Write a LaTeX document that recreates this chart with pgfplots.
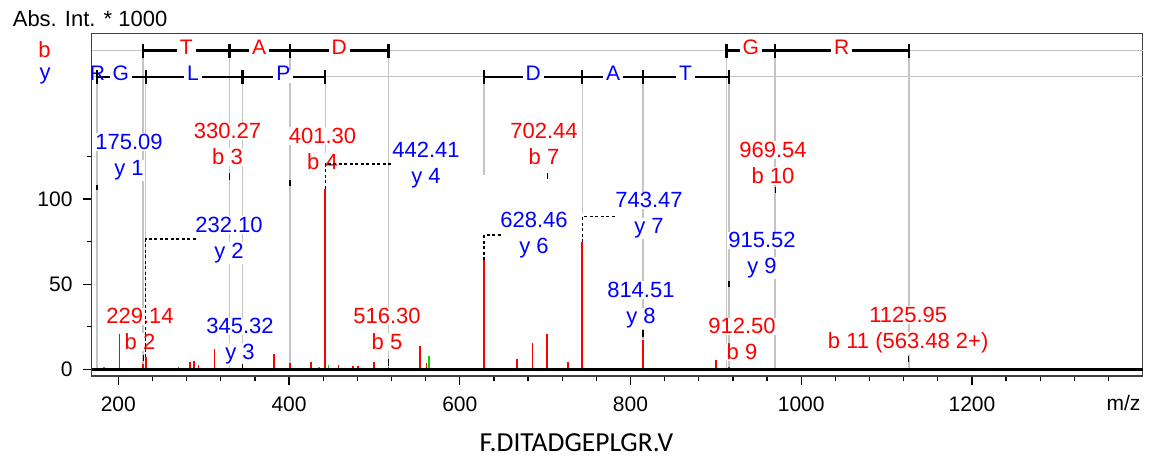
\documentclass[border=0pt]{standalone}
\usepackage{pgfplots}
\pgfplotsset{compat=1.18}
\usepackage{fontspec}
\setmainfont{Liberation Sans}
\newfontfamily\calib{Carlito}
\definecolor{pkred}{RGB}{255,0,0}
\definecolor{pkgreen}{RGB}{0,215,0}
\definecolor{ionblue}{RGB}{0,0,255}
\definecolor{gl}{RGB}{196,196,196}
\newcommand\lf{\fontsize{22}{26}\selectfont}
\newcommand\tf{\fontsize{21}{24}\selectfont}
\tikzset{
 lb/.style={anchor=base, fill=white, inner sep=1pt, font=\lf},
 lad/.style={fill=white, inner sep=3pt, text height=0.72em, text depth=0pt, font=\tf},
 gv/.style={gl, line width=1.5pt},
 ll/.style={black, line width=2.4pt},
 dl/.style={black, line width=1.3pt, dash pattern=on 3pt off 2.5pt},
 am/.style={black, line width=1.4pt},
}
\begin{document}
\begin{tikzpicture}[x=1pt,y=1pt]
\path[use as bounding box] (0,0) rectangle (1151,461);
\begin{axis}[at={(91.7pt,85pt)}, anchor=south west, scale only axis,
 width=1051pt, height=342.7pt,
 xmin=168.8, xmax=1400, ymin=-3.9, ymax=197.3,
 clip=false,
 axis line style={black!75, line width=1.4pt},
 xtick={200,400,...,1200},
 minor xtick={240,280,320,360,440,480,520,560,640,680,720,760,840,880,920,960,1040,1080,1120,1160,1240,1280,1320,1360},
 ytick={0,50,100}, minor ytick={25,75,125},
 tick align=outside, tick pos=left,
 major tick length=9pt, minor tick length=4.5pt,
 every tick/.style={black, line width=1.3pt},
 tick label style={font=\tf, inner sep=0pt},
 xticklabel style={yshift=-11.7pt},
 yticklabel style={xshift=-10pt},
 /pgf/number format/assume math mode=true,
 /pgf/number format/1000 sep={},
]
% ladder rows
\draw[gl, line width=1.3pt] (axis cs:168.8,187.1) -- (axis cs:1400,187.1);
\draw[gl, line width=1.3pt] (axis cs:168.8,171.8) -- (axis cs:1400,171.8);
% grey verticals
\draw[gv] (axis cs:229.14,187.1) -- (axis cs:229.14,0);
\draw[gv] (axis cs:330.27,187.1) -- (axis cs:330.27,0);
\draw[gv] (axis cs:401.30,187.1) -- (axis cs:401.30,0);
\draw[gv] (axis cs:516.30,187.1) -- (axis cs:516.30,0);
\draw[gv] (axis cs:912.50,187.1) -- (axis cs:912.50,0);
\draw[gv] (axis cs:969.54,187.1) -- (axis cs:969.54,0);
\draw[gv] (axis cs:1125.95,187.1) -- (axis cs:1125.95,0);
\draw[gv] (axis cs:175.09,171.8) -- (axis cs:175.09,0);
\draw[gv] (axis cs:232.10,171.8) -- (axis cs:232.10,40.6);
\draw[gv] (axis cs:345.32,171.8) -- (axis cs:345.32,0);
\draw[gv] (axis cs:442.41,171.8) -- (axis cs:442.41,120.5);
\draw[gv] (axis cs:628.46,171.8) -- (axis cs:628.46,114.1);
\draw[gv] (axis cs:743.47,171.8) -- (axis cs:743.47,91.8);
\draw[gv] (axis cs:814.51,171.8) -- (axis cs:814.51,0);
\draw[gv] (axis cs:915.52,171.8) -- (axis cs:915.52,0);
% b ladder
\draw[ll] (axis cs:229.14,187.1) -- (axis cs:516.30,187.1);
\draw[ll] (axis cs:912.50,187.1) -- (axis cs:1125.95,187.1);
\draw[ll] ([yshift=-7pt]axis cs:229.14,187.1) -- ([yshift=7pt]axis cs:229.14,187.1);
\draw[ll] ([yshift=-7pt]axis cs:330.27,187.1) -- ([yshift=7pt]axis cs:330.27,187.1);
\draw[ll] ([yshift=-7pt]axis cs:401.30,187.1) -- ([yshift=7pt]axis cs:401.30,187.1);
\draw[ll] ([yshift=-7pt]axis cs:516.30,187.1) -- ([yshift=7pt]axis cs:516.30,187.1);
\draw[ll] ([yshift=-7pt]axis cs:912.50,187.1) -- ([yshift=7pt]axis cs:912.50,187.1);
\draw[ll] ([yshift=-7pt]axis cs:969.54,187.1) -- ([yshift=7pt]axis cs:969.54,187.1);
\draw[ll] ([yshift=-7pt]axis cs:1125.95,187.1) -- ([yshift=7pt]axis cs:1125.95,187.1);
\node[lad, text=pkred] at (axis cs:279.7,187.1) {T};
\node[lad, text=pkred] at (axis cs:365.0,187.1) {A};
\node[lad, text=pkred] at (axis cs:458.7,187.1) {D};
\node[lad, text=pkred] at (axis cs:941.0,187.1) {G};
\node[lad, text=pkred] at (axis cs:1047.5,187.1) {R};
% y ladder
\draw[ll] (axis cs:175.09,171.8) -- (axis cs:442.41,171.8);
\draw[ll] (axis cs:628.46,171.8) -- (axis cs:915.52,171.8);
\node[lad, fill=none, text=ionblue] at (axis cs:175.4,171.8) {R};
\node[lad, text=ionblue] at (axis cs:202.8,171.8) {G};
\node[lad, text=ionblue] at (axis cs:287.5,171.8) {L};
\node[lad, text=ionblue] at (axis cs:393.2,171.8) {P};
\node[lad, text=ionblue] at (axis cs:686.0,171.8) {D};
\node[lad, text=ionblue] at (axis cs:779.5,171.8) {A};
\node[lad, text=ionblue] at (axis cs:864.5,171.8) {T};
\draw[ll] ([yshift=-7pt]axis cs:175.09,171.8) -- ([yshift=7pt]axis cs:175.09,171.8);
\draw[ll] ([yshift=-7pt]axis cs:232.10,171.8) -- ([yshift=7pt]axis cs:232.10,171.8);
\draw[ll] ([yshift=-7pt]axis cs:345.32,171.8) -- ([yshift=7pt]axis cs:345.32,171.8);
\draw[ll] ([yshift=-7pt]axis cs:442.41,171.8) -- ([yshift=7pt]axis cs:442.41,171.8);
\draw[ll] ([yshift=-7pt]axis cs:628.46,171.8) -- ([yshift=7pt]axis cs:628.46,171.8);
\draw[ll] ([yshift=-7pt]axis cs:743.47,171.8) -- ([yshift=7pt]axis cs:743.47,171.8);
\draw[ll] ([yshift=-7pt]axis cs:814.51,171.8) -- ([yshift=7pt]axis cs:814.51,171.8);
\draw[ll] ([yshift=-7pt]axis cs:915.52,171.8) -- ([yshift=7pt]axis cs:915.52,171.8);
% ion labels
\node[lb, text=ionblue] at (axis cs:212.5,128.9) {175.09};
\node[lb, text=ionblue] at (axis cs:212.5,113.6) {y 1};
\node[lb, text=pkred] at (axis cs:327.9,135.3) {330.27};
\node[lb, text=pkred] at (axis cs:327.9,120.1) {b 3};
\node[lb, text=pkred] at (axis cs:439.2,132.4) {401.30};
\node[lb, text=pkred] at (axis cs:439.2,117.1) {b 4};
\node[lb, text=ionblue] at (axis cs:560.4,124.2) {442.41};
\node[lb, text=ionblue] at (axis cs:560.4,108.9) {y 4};
\node[lb, text=ionblue] at (axis cs:329.7,80.2) {232.10};
\node[lb, text=ionblue] at (axis cs:329.7,64.9) {y 2};
\node[lb, text=pkred] at (axis cs:225.4,26.7) {229.14};
\node[lb, text=pkred] at (axis cs:225.4,11.5) {b 2};
\node[lb, text=ionblue] at (axis cs:342.6,20.8) {345.32};
\node[lb, text=ionblue] at (axis cs:342.6,5.6) {y 3};
\node[lb, text=pkred] at (axis cs:514.7,26.7) {516.30};
\node[lb, text=pkred] at (axis cs:514.7,11.5) {b 5};
\node[lb, text=pkred] at (axis cs:698.7,135.3) {702.44};
\node[lb, text=pkred] at (axis cs:698.7,120.1) {b 7};
\node[lb, text=ionblue] at (axis cs:687.0,83.1) {628.46};
\node[lb, text=ionblue] at (axis cs:687.0,67.8) {y 6};
\node[lb, text=ionblue] at (axis cs:821.6,94.8) {743.47};
\node[lb, text=ionblue] at (axis cs:821.6,79.6) {y 7};
\node[lb, text=ionblue] at (axis cs:812.2,42.0) {814.51};
\node[lb, text=ionblue] at (axis cs:812.2,26.7) {y 8};
\node[lb, text=ionblue] at (axis cs:954.0,71.3) {915.52};
\node[lb, text=ionblue] at (axis cs:954.0,56.1) {y 9};
\node[lb, text=pkred] at (axis cs:930.6,20.8) {912.50};
\node[lb, text=pkred] at (axis cs:930.6,5.6) {b 9};
\node[lb, text=pkred] at (axis cs:966.9,124.2) {969.54};
\node[lb, text=pkred] at (axis cs:966.9,108.9) {b 10};
\node[lb, text=pkred] at (axis cs:1125.3,27.3) {1125.95};
\node[lb, text=pkred] at (axis cs:1125.3,12.0) {b 11 (563.48 2+)};
% peaks
\addplot[ycomb, pkgreen, line width=1.5pt, mark=none] coordinates {
(178,0.8) (183,1.5) (190,0.6) (213,0.6) (238,0.8) (246,0.6) (262,0.5) (305,0.6)
(330,0.5) (358,0.8) (382,1.2) (395,0.6) (420,0.8) (435,1.2) (446,2.5) (452,1.0)
(470,0.8) (487,0.6) (492,0.8) (510,0.6) (525,0.8) (540,0.6) (564,7.7) (575,0.6)
(590,0.8) (605,0.6) (620,0.5) (642,0.8) (652,0.6) (658,0.6) (662,0.6) (670,0.8)
(690,0.5) (773,0.8) (795,0.6) (800,0.6) (890,0.6) (895,0.5) (918,0.8) (969.54,1.0)};
\addplot[ycomb, pkred, line width=1.6pt, mark=none] coordinates {
(201.2,20.6) (229.14,3.0) (232.10,7.0) (270.3,1.5) (284.0,4.3) (288.7,5.1) (293.7,2.6)
(312.5,12.1) (382.7,9.3) (401.30,3.7) (425.7,4.3) (442.41,105.8) (457.7,2.6) (474.6,2.2)
(481.0,1.7) (499.5,4.3) (516.3,1.2) (553.4,13.7) (561.2,4.0) (628.46,64.2) (666.7,6.3)
(685.0,15.6) (702.44,20.6) (727.1,4.3) (743.47,74.9) (814.51,17.2) (899.8,5.3) (915.52,1.5)};
\addplot[black, line width=2.6pt, mark=none] coordinates {(168.8,0) (1400,0)};
% dashed leaders
\draw[dl] (axis cs:232.10,7.2) -- (axis cs:232.10,76.5) -- (axis cs:291.8,76.5);
\draw[dl] (axis cs:442.41,105.9) -- (axis cs:442.41,120.5) -- (axis cs:521.8,120.5);
\draw[dl] (axis cs:628.46,64.2) -- (axis cs:628.46,78.9) -- (axis cs:649.1,78.9);
\draw[dl] (axis cs:743.47,74.7) -- (axis cs:743.47,89.6) -- (axis cs:784.2,89.6);
% anchor marks
\draw[am] (axis cs:175.09,108.1) -- (axis cs:175.09,105.2);
\draw[am] (axis cs:330.27,115.3) -- (axis cs:330.27,111.2);
\draw[am] (axis cs:401.30,111.2) -- (axis cs:401.30,107.6);
\draw[am] (axis cs:229.14,8.4) -- (axis cs:229.14,4.9);
\draw[am] (axis cs:345.32,3.1) -- (axis cs:345.32,0.2);
\draw[am] (axis cs:516.30,6.0) -- (axis cs:516.30,1.9);
\draw[am] (axis cs:702.44,115.3) -- (axis cs:702.44,111.8);
\draw[am] (axis cs:814.51,23.1) -- (axis cs:814.51,19.0);
\draw[am] (axis cs:915.52,51.9) -- (axis cs:915.52,48.4);
\draw[am] (axis cs:969.54,107.0) -- (axis cs:969.54,103.5);
\draw[am] (axis cs:1125.95,7.8) -- (axis cs:1125.95,4.3);
\end{axis}
\node[anchor=base west, font=\lf] at (9.3,434.3) {Abs. Int. * 1000};
\node[anchor=base, text=pkred, font=\lf] at (44.5,403.7) {b};
\node[anchor=base, text=ionblue, font=\lf] at (45,381.3) {y};
\node[anchor=base, font=\tf] at (1123.5,50.3) {m/z};
\node[anchor=base, font=\calib\fontsize{27.5}{30}\selectfont] at (576.5,9.3) {F.DITADGEPLGR.V};
\end{tikzpicture}
\end{document}
